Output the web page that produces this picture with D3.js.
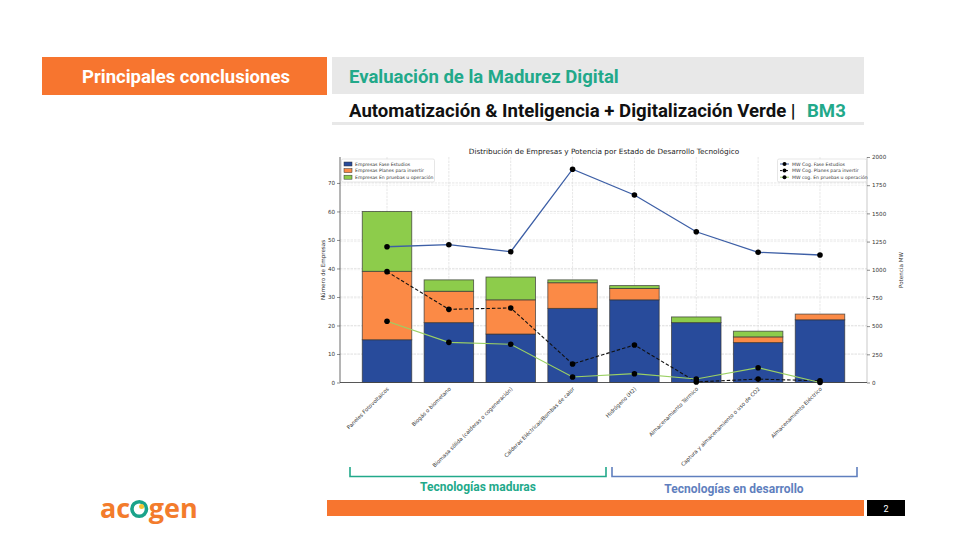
<!DOCTYPE html>
<html><head><meta charset="utf-8">
<script src="https://cdn.jsdelivr.net/npm/d3@7"></script>
<style>
body{margin:0;background:#fff;}
svg{display:block;}
</style></head>
<body><svg id="s" width="980" height="560"></svg>
<script>
const categories = ["Paneles Fotovoltaicos","Biogás o biometano","Biomasa sólida (calderas o cogeneración)","Calderas Eléctricas/Bombas de calor","Hidrógeno (H2)","Almacenamiento Térmico","Captura y almacenamiento o uso de CO2","Almacenamiento Eléctrico"];
const empresasEstudios = [15,21,17,26,29,21,14,22];
const empresasPlanes   = [24,11,12,9,4,0,2,2];
const empresasPruebas  = [21,4,8,1,1,2,2,0];
const mwEstudios = [1204,1222,1160,1892,1663,1337,1155,1131];
const mwPlanes   = [983,649,661,164,333,5,30,15];
const mwPruebas  = [543,356,339,49,78,31,131,0];
const leftTicks = [0,10,20,30,40,50,60,70];
const rightTicks = [0,250,500,750,1000,1250,1500,1750,2000];
const barLegend = ["Empresas Fase Estudios","Empresas Planes para invertir","Empresas En pruebas u operación"];
const lineLegend = ["MW Cog. Fase Estudios","MW Cog. Planes para invertir","MW cog. En pruebas u operación"];

const svg = d3.select("#s");
const ORANGE = "#F7752F", TEAL = "#22A98A", STEEL = "#5F7FBE";
const SLIDEF = "Roboto, 'Noto Sans', sans-serif";
const CF = "'DejaVu Sans', sans-serif";

// ---- slide header ----
svg.append("rect").attr("x",42).attr("y",57).attr("width",285).attr("height",38).attr("fill",ORANGE);
svg.append("text").attr("x",186).attr("y",83).attr("text-anchor","middle").attr("font-family",SLIDEF)
  .attr("font-weight",700).attr("font-size",18.5).attr("fill","#fff").text("Principales conclusiones");
svg.append("rect").attr("x",332).attr("y",57).attr("width",532).attr("height",37).attr("fill","#E8E8E8");
svg.append("text").attr("x",349).attr("y",83).attr("font-family",SLIDEF).attr("font-weight",700)
  .attr("font-size",18.5).attr("fill",TEAL).text("Evaluación de la Madurez Digital");
svg.append("text").attr("x",349).attr("y",117).attr("font-family",SLIDEF).attr("font-weight",700)
  .attr("font-size",18.6).attr("fill","#111").text("Automatización & Inteligencia + Digitalización Verde |");
svg.append("text").attr("x",807).attr("y",117).attr("font-family",SLIDEF).attr("font-weight",700)
  .attr("font-size",18.6).attr("fill",TEAL).text("BM3");
svg.append("rect").attr("x",332).attr("y",122).attr("width",532).attr("height",3).attr("fill","#E8E8E8");

// ---- chart ----
const x = d3.scaleBand().domain(categories).range([340,867]).paddingInner(0.2).paddingOuter(0.36);
const yL = d3.scaleLinear().domain([0,79.1]).range([382.5,157]);
const yR = d3.scaleLinear().domain([0,2000]).range([382.5,157]);
const cx = c => x(c) + x.bandwidth()/2;

const g = svg.append("g");
// grid
g.selectAll(".gx").data(categories).join("line").attr("x1",cx).attr("x2",cx).attr("y1",157).attr("y2",382.5)
  .attr("stroke","#dcdcdc").attr("stroke-width",0.7).attr("stroke-dasharray","2.5,1");
g.selectAll(".gy").data(leftTicks.slice(1)).join("line").attr("x1",340).attr("x2",867)
  .attr("y1",d=>yL(d)).attr("y2",d=>yL(d)).attr("stroke","#dcdcdc").attr("stroke-width",0.7).attr("stroke-dasharray","2.5,1");
g.selectAll(".gr").data(rightTicks.slice(1,-1)).join("line").attr("x1",340).attr("x2",867)
  .attr("y1",d=>yR(d)).attr("y2",d=>yR(d)).attr("stroke","#e8e8e8").attr("stroke-width",0.6).attr("stroke-dasharray","2.5,1");

// bars
const barColors = ["#284B9B","#FB8A46","#8DCC4B"];
const stackData = categories.map((c,i)=>({c, a:empresasEstudios[i], b:empresasPlanes[i], d:empresasPruebas[i]}));
const stack = d3.stack().keys(["a","b","d"])(stackData);
stack.forEach((layer,k)=>{
  g.selectAll(".bar"+k).data(layer).join("rect")
    .attr("x",d=>x(d.data.c)).attr("width",x.bandwidth())
    .attr("y",d=>yL(d[1])).attr("height",d=>Math.max(0,yL(d[0])-yL(d[1])))
    .attr("fill",barColors[k]).attr("stroke","#333").attr("stroke-opacity",d=>d[1]>d[0]?0.75:0).attr("stroke-width",0.9);
});

// axes
const axL = d3.axisLeft(yL).tickValues(leftTicks).tickSize(3).tickPadding(2).tickFormat(d3.format("d"));
const gl = svg.append("g").attr("transform","translate(340,0)").call(axL);
const axR = d3.axisRight(yR).tickValues(rightTicks).tickSize(3).tickPadding(2).tickFormat(d3.format("d"));
const gr = svg.append("g").attr("transform","translate(867,0)").call(axR);
[gl,gr].forEach(a=>{
  a.selectAll("text").attr("font-family",CF).attr("font-size",5.6).attr("fill","#333");
  a.selectAll("line").attr("stroke","#444").attr("stroke-width",0.6);
  a.select(".domain").attr("stroke","#444").attr("stroke-width",0.8).attr("d","M0,157V382.5");
});
gr.select(".domain").attr("stroke","#bbb");
svg.append("line").attr("x1",340).attr("x2",867).attr("y1",382.5).attr("y2",382.5).attr("stroke","#444").attr("stroke-width",0.9);

// x labels
svg.append("g").selectAll("text").data(categories).join("text")
  .attr("transform",d=>`translate(${cx(d)+1},${388}) rotate(-45)`)
  .attr("text-anchor","end").attr("dy","0.35em").attr("font-family",CF).attr("font-size",5.3).attr("fill","#333").text(d=>d);

// axis titles
svg.append("text").attr("transform","translate(325,270) rotate(-90)").attr("text-anchor","middle")
  .attr("font-family",CF).attr("font-size",5.6).attr("fill","#333").text("Número de Empresas");
svg.append("text").attr("transform","translate(903,270) rotate(-90)").attr("text-anchor","middle")
  .attr("font-family",CF).attr("font-size",5.6).attr("fill","#333").text("Potencia MW");
svg.append("text").attr("x",604).attr("y",154).attr("text-anchor","middle").attr("font-family",CF)
  .attr("font-size",7.3).attr("fill","#222").text("Distribución de Empresas y Potencia por Estado de Desarrollo Tecnológico");

// lines
const line = d3.line().x((d,i)=>cx(categories[i])).y(d=>yR(d));
const series = [
  {v:mwEstudios, color:"#3D5FA6", dash:null, w:1.3},
  {v:mwPlanes, color:"#111", dash:"3.5,2", w:1.1},
  {v:mwPruebas, color:"#9BD064", dash:null, w:1.2}
];
series.forEach(s=>{
  svg.append("path").attr("d",line(s.v)).attr("fill","none").attr("stroke",s.color).attr("stroke-width",s.w)
    .attr("stroke-dasharray",s.dash);
});
series.forEach(s=>{
  svg.append("g").selectAll("circle").data(s.v).join("circle").attr("cx",(d,i)=>cx(categories[i])).attr("cy",d=>yR(d))
    .attr("r",2.8).attr("fill","#000");
});

// legends
const lg = svg.append("g");
lg.append("rect").attr("x",341.5).attr("y",159).attr("width",93).attr("height",23).attr("fill","#fff")
  .attr("fill-opacity",0.85).attr("stroke","#ccc").attr("stroke-width",0.5).attr("rx",1.5);
barLegend.forEach((t,i)=>{
  const yy = 164+i*6.6;
  lg.append("rect").attr("x",344).attr("y",yy-2).attr("width",8).attr("height",4).attr("fill",barColors[i]).attr("stroke","#333").attr("stroke-width",0.5);
  lg.append("text").attr("x",355).attr("y",yy).attr("dy","0.35em").attr("font-family",CF).attr("font-size",4.6).attr("fill","#333").text(t);
});
const lr = svg.append("g");
lr.append("rect").attr("x",777.5).attr("y",159).attr("width",89).attr("height",23).attr("fill","#fff")
  .attr("fill-opacity",0.85).attr("stroke","#ccc").attr("stroke-width",0.5).attr("rx",1.5);
lineLegend.forEach((t,i)=>{
  const yy = 164+i*6.6; const s = series[i];
  lr.append("line").attr("x1",780).attr("x2",789).attr("y1",yy).attr("y2",yy).attr("stroke",s.color).attr("stroke-width",1).attr("stroke-dasharray",s.dash?"2,1":null);
  lr.append("circle").attr("cx",784.5).attr("cy",yy).attr("r",2).attr("fill","#000");
  lr.append("text").attr("x",792).attr("y",yy).attr("dy","0.35em").attr("font-family",CF).attr("font-size",4.6).attr("fill","#333").text(t);
});

// ---- brackets ----
svg.append("path").attr("d","M350,467V476.5H606V467").attr("fill","none").attr("stroke",TEAL).attr("stroke-width",1.6);
svg.append("path").attr("d","M612,467V476.5H857V467").attr("fill","none").attr("stroke",STEEL).attr("stroke-width",1.6);
svg.append("text").attr("x",478).attr("y",491).attr("text-anchor","middle").attr("font-family",SLIDEF).attr("font-weight",700)
  .attr("font-size",12).attr("fill",TEAL).text("Tecnologías maduras");
svg.append("text").attr("x",734).attr("y",493).attr("text-anchor","middle").attr("font-family",SLIDEF).attr("font-weight",700)
  .attr("font-size",12).attr("fill",STEEL).text("Tecnologías en desarrollo");

// ---- footer ----
svg.append("rect").attr("x",327).attr("y",500).attr("width",537).attr("height",16).attr("fill",ORANGE);
svg.append("rect").attr("x",867).attr("y",500).attr("width",38).attr("height",16).attr("fill","#000");
svg.append("text").attr("x",886).attr("y",511.5).attr("text-anchor","middle").attr("font-family",SLIDEF).attr("font-size",9).attr("fill","#fff").text("2");

// logo
const logo = svg.append("g");
const LF = "'Open Sans', sans-serif";
const t1 = logo.append("text").attr("x",100).attr("y",518).attr("font-family",LF).attr("font-weight",700)
  .attr("font-size",27).attr("fill","#F37C2C").text("ac");
const w1 = t1.node().getComputedTextLength();
const ocx = 100 + w1 + 9;
logo.append("circle").attr("cx",ocx).attr("cy",509).attr("r",7.3).attr("fill","none").attr("stroke","#1AA38A").attr("stroke-width",3.6);
logo.append("circle").attr("cx",ocx+2.4).attr("cy",506.6).attr("r",2.5).attr("fill","#F6C431");
logo.append("text").attr("x",ocx+9.5).attr("y",518).attr("font-family",LF).attr("font-weight",700)
  .attr("font-size",27).attr("fill","#F37C2C").text("gen");
</script></body></html>
